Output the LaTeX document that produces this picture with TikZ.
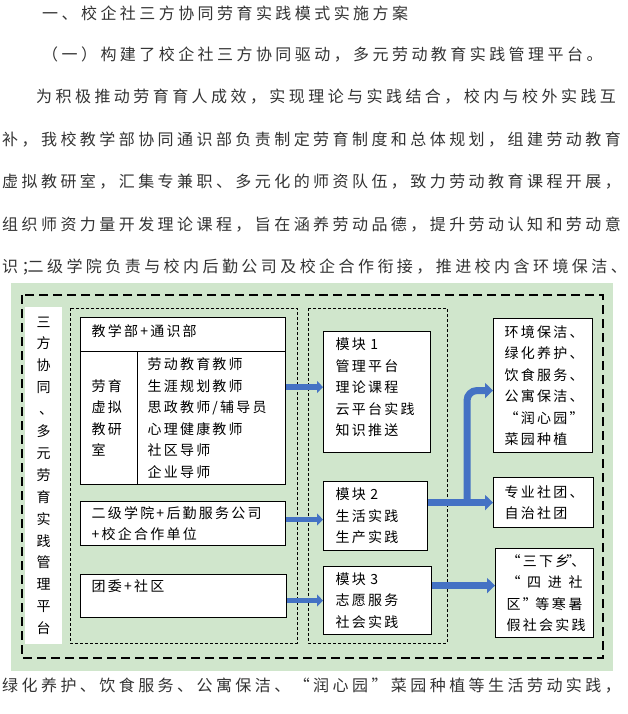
\documentclass[tikz,border=0pt]{standalone}
\usepackage{fontspec}
\setmainfont{Noto Sans CJK SC}
\newfontfamily\bodyfont[LetterSpace=21.5]{Noto Sans CJK SC}
\newfontfamily\boxfont[LetterSpace=16]{Noto Sans CJK SC}
\usetikzlibrary{calc, arrows.meta}
\definecolor{panel}{HTML}{D0E6CC}
\definecolor{flowblue}{HTML}{4472C4}
\definecolor{bodyink}{HTML}{333333}

\begin{document}
\begin{tikzpicture}[x=1pt, y=-1pt,
  txt/.style={anchor=west, inner sep=0pt, text=bodyink, font=\bodyfont\fontsize{16}{20}\selectfont},
  box/.style={draw, line width=1.1pt, fill=white, anchor=north west, inner xsep=11pt, inner ysep=0pt, align=left, font=\boxfont\fontsize{14}{21.5}\selectfont},
  zone/.style={line width=0.8pt, dash pattern=on 3pt off 2pt},
  flow/.style={draw=flowblue, line width=5.5pt, -{Triangle[length=6pt, width=12pt]}},
  bigflow/.style={flow, line width=7pt, -{Triangle[length=8pt, width=15pt]}}]
  \useasboundingbox (0,0) rectangle (628,714);

  % text above the figure
  \node[txt] (h1) at (42,13.5) {一、校企社三方协同劳育实践模式实施方案};
  \node[txt] (h2) at (42,55) {（一）构建了校企社三方协同驱动，多元劳动教育实践管理平台。};
  \node[txt] (p1) at (36,97) {为积极推动劳育育人成效，实现理论与实践结合，校内与校外实践互};
  \node[txt] (p2) at (2,139.5) {补，我校教学部协同通识部负责制定劳育制度和总体规划，组建劳动教育};
  \node[txt] (p3) at (2,182) {虚拟教研室，汇集专兼职、多元化的师资队伍，致力劳动教育课程开展，};
  \node[txt] (p4) at (2,224.5) {组织师资力量开发理论课程，旨在涵养劳动品德，提升劳动认知和劳动意};
  \node[txt] (p5) at (2,267) {识；\kern-10pt二级学院负责与校内后勤公司及校企合作衔接，推进校内含环境保洁、};

  % panel
  \fill[panel] (11,283) rectangle (613,671);
  \draw[line width=2.2pt, dash pattern=on 9pt off 5pt] (22,295) rectangle (603,658);
  \node[fill=white, inner sep=0pt, anchor=north west, minimum width=37pt, minimum height=337pt,
    align=center, font=\boxfont\fontsize{14}{21.9}\selectfont] (side) at (25,307)
    {三\\方\\协\\同\\\kern5pt、\\多\\元\\劳\\育\\实\\践\\管\\理\\平\\台};
  \draw[zone] (70,308) rectangle (297,643);
  \draw[zone] (308,308) rectangle (447,643);

  % left column
  \node[box, text width=183pt, minimum height=34pt] (jxb) at (80,317) {教学部+通识部\\[-13.5pt]\mbox{}};
  \node[box, text width=35pt, minimum height=133pt] (cellL) at (80,351) {劳育\\虚拟\\教研\\室};
  \node[box, inner xsep=10pt, text width=128pt, minimum height=133pt] (cellR) at (137,351)
    {劳动教育教师\\生涯规划教师\\思政教师/辅导员\\心理健康教师\\社区导师\\企业导师};
  \node[box, text width=183pt, minimum height=44pt] (sec) at (80,501) {二级学院+后勤服务公司\\+校企合作单位};
  \node[box, text width=184pt, minimum height=43pt] (tw) at (80,574) {团委+社区\\\mbox{}};

  % modules
  \node[box, inner xsep=12pt, text width=83pt, minimum height=121pt] (m1) at (323,331)
    {模块 1\\管理平台\\理论课程\\云平台实践\\知识推送\\[-11.5pt]\mbox{}};
  \node[box, inner xsep=12pt, text width=80pt, minimum height=69pt] (m2) at (323,481) {模块 2\\生活实践\\生产实践};
  \node[box, inner xsep=12pt, text width=84pt, minimum height=68pt] (m3) at (323,566) {模块 3\\志愿服务\\社会实践};

  % right column
  \node[box, text width=77pt, minimum height=134pt] (rb1) at (493,318)
    {环境保洁、\\绿化养护、\\饮食服务、\\公寓保洁、\\“润心园”\\菜园种植};
  \node[box, text width=78pt, minimum height=50pt] (rb2) at (493,477) {专业社团、\\自治社团};
  \node[box, text width=76pt, minimum height=89pt] (rb3) at (495,548)
    {“三下乡\kern-3pt”\kern-9pt、\\\makebox[76pt][l]{“\hfill 四\hfill 进\hfill 社}\\\makebox[76pt][l]{区”\kern-4pt\hfill 等\hfill 寒\hfill 暑}\\假社会实践};

  % arrows
  \draw[flow] ($(cellR.east |- m1.west)+(0,-5)$) -- ($(m1.west)+(0,-5)$);
  \draw[flow] ($(sec.east)+(0,-4)$) -- ($(sec.east -| m2.west)+(0,-4)$);
  \draw[flow] (tw.east |- m3.west) -- (m3.west);
  \draw[bigflow] (m2.east |- rb2.west) -- (rb2.west);
  \draw[bigflow] ($(m3.east |- rb3.west)+(0,-7.5)$) -- ($(rb3.west)+(0,-7.5)$);
  \coordinate (fork) at ($(m2.east |- rb2.west)!0.6!(rb2.west)$);
  \draw[bigflow, rounded corners=10pt] (fork) |- ($(rb1.west)+(0,5)$);

  % text below the figure
  \node[txt] (p6) at (2,686) {绿化养护、饮食服务、公寓保洁、“润心园”菜园种植等生活劳动实践，};
\end{tikzpicture}
\end{document}
